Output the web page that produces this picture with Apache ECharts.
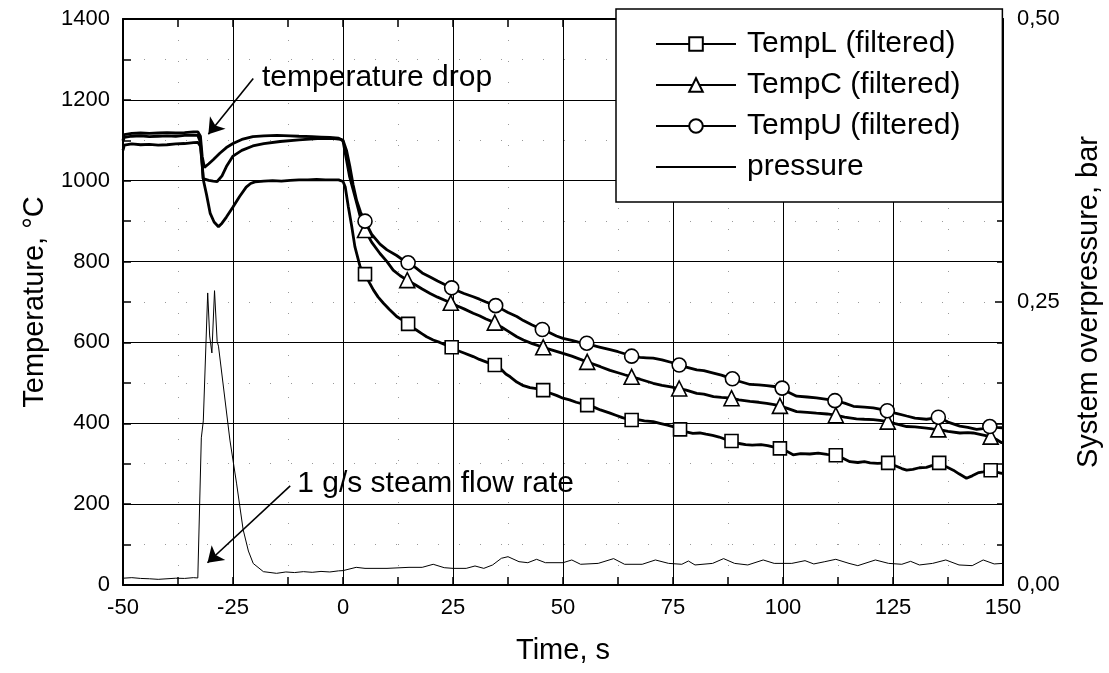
<!DOCTYPE html>
<html><head><meta charset="utf-8">
<script src="https://cdn.jsdelivr.net/npm/echarts@6/dist/echarts.min.js"></script>
<style>html,body{margin:0;padding:0;background:#fff}#c{width:1109px;height:673px}</style>
</head><body><div id="c"></div>
<script>
// ---- data (time in s, temperature in °C, pressure in bar) ----
const seriesNames = ['TempL (filtered)', 'TempC (filtered)', 'TempU (filtered)', 'pressure'];

const tempL = [[-50,1075],[-49.7,1088],[-48,1091],[-46,1089],[-44,1090],[-42,1088],[-40,1089],[-38,1091],[-36,1092],[-34,1094],[-33,1095],[-32.4,1085],[-32,1040],[-31.7,1000],[-31,965],[-30.2,920],[-29.3,898],[-28.3,886],[-27.5,895],[-26.5,910],[-25,935],[-23.5,961],[-22,984],[-21,993],[-20,997],[-18,999],[-16,1000],[-14,999],[-12,1001],[-10,1002],[-8,1002],[-6,1003],[-4,1002],[-2,1002],[-1,1002],
[0,998],[0.5,985],[1.2,936],[2,886],[2.7,837],[3.9,787],[5,769],[6,748],[6.9,730],[8,712],[9.2,697],[10.5,682],[12.2,664],[13.5,655],[14.8,646],[16.5,632],[18,621],[19,614],[20.5,606],[22,600],[23.5,593],[24.7,588],[26,580],[27.5,574],[29.6,565],[31,558],[32.5,552],[34.5,544],[36,533],[37,522],[38,515],[39.5,502],[41,493],[42.5,488],[44,486],[45.5,482],[47,475],[48.5,469],[50,462],[51.5,458],[53,452],[55.5,445],[57,440],[58.5,433],[60.7,425],[62,420],[63.5,414],[65.6,408],[67,409],[68.5,406],[70.5,404],[72,400],[73.5,396],[75,392],[76.6,385],[78,379],[79.5,375],[81.1,376],[82.5,373],[84,370],[85.5,366],[87,360],[88.3,356],[90,350],[91.5,347],[93,346],[95,347],[96.5,345],[98,341],[99.3,338],[100.5,333],[102.3,322],[104,325],[106.1,324],[108,326],[110,323],[112,321],[113.5,314],[115.2,305],[117,303],[118.5,305],[119.8,302],[121.5,301],[123.9,302],[125.5,295],[127,288],[128.1,284],[129.5,286],[131,290],[132.6,291],[134,296],[135.5,302],[137,293],[138.7,284],[140,275],[141.7,264],[143,270],[144.5,278],[145.5,280],[147.2,284],[148.5,279],[149.7,276],[150,278]];

const tempC = [[-50,1098],[-49.7,1107],[-48,1110],[-46,1111],[-44,1109],[-42,1110],[-40,1111],[-38,1110],[-36,1112],[-34,1113],[-33,1112],[-32.4,1095],[-32,1040],[-31.8,1005],[-30.5,1001],[-29.5,999],[-28.6,998],[-27.5,1012],[-26.5,1035],[-25,1061],[-23,1075],[-20.5,1086],[-18,1092],[-14.3,1097],[-10,1101],[-5,1105],[-2,1104],[-0.5,1102],
[0,1098],[0.8,1051],[1.5,1010],[2.3,978],[3.1,945],[3.9,912],[5,878],[6.5,848],[8.4,820],[10,800],[11.4,779],[13,765],[14.6,754],[16.5,742],[18,732],[19.8,721],[21.5,712],[23,705],[24.5,698],[26,690],[27.5,683],[29.6,672],[31,666],[32.5,658],[34.5,649],[36,638],[37.5,628],[39.5,614],[41,606],[43,597],[45.5,588],[47,583],[48.5,578],[50,573],[52,566],[53.5,560],[55.5,552],[57,546],[58.5,540],[60.7,531],[62.5,525],[64,520],[65.6,515],[67.5,509],[69,504],[70.5,499],[72.5,494],[74.5,490],[76.4,486],[78,482],[80.4,474],[82,472],[84.2,466],[86,464],[88.3,462],[90,458],[92.5,454],[94.5,452],[96.3,449],[98,446],[99.3,443],[101,437],[103.1,429],[105.5,427],[107.6,425],[110,423],[112,420],[114,415],[116.7,411],[118.5,410],[120.5,409],[122,407],[123.8,404],[125.5,399],[128.1,392],[130,391],[132.6,388],[134,386],[135.3,385],[137.5,380],[140.2,376],[142,377],[143.2,376],[145,372],[147.2,367],[148.5,360],[149.7,352],[150,352]];

const tempU = [[-50,1100],[-49.7,1114],[-48,1117],[-46,1118],[-44,1117],[-42,1118],[-40,1119],[-38,1118],[-36,1119],[-34,1121],[-33,1121],[-32.4,1110],[-32,1060],[-31.5,1033],[-30.5,1042],[-29.5,1052],[-28,1068],[-26.5,1082],[-25,1092],[-23,1102],[-20.5,1109],[-18,1111],[-15,1112],[-12,1111],[-10,1110],[-7,1109],[-5,1108],[-3,1107],[-1,1105],
[0,1100],[0.8,1075],[1.6,1033],[2.3,990],[3.1,951],[4,922],[5,900],[6.5,868],[8.4,843],[10,829],[12.2,815],[13.5,805],[14.8,797],[16.5,785],[18,772],[19.8,762],[21.5,752],[23,744],[24.7,735],[26,728],[27.5,721],[29.6,713],[31,707],[32.5,700],[34.7,691],[36,683],[37.5,674],[39.5,664],[41,654],[43,643],[45.3,632],[47,624],[48.5,616],[50,610],[52,605],[53.5,601],[55.4,598],[57,592],[58.5,588],[60.7,582],[62.5,577],[64,572],[65.6,566],[67.5,563],[69,562],[70.5,561],[72.5,557],[74.5,551],[76.4,544],[78,539],[80.4,532],[82,530],[84.2,524],[86,519],[88.5,510],[90,504],[92.5,496],[94.5,495],[96.3,493],[98,491],[99.8,487],[101,478],[103.1,467],[105.5,465],[107.6,463],[110,459],[111.8,456],[114,450],[116,442],[118.5,440],[120.5,438],[122,435],[123.7,431],[125.5,425],[128.1,418],[130,413],[132.6,410],[134,412],[135.3,415],[137.5,403],[140.2,393],[142,390],[144,385],[145.5,387],[147,392],[148.5,390],[149.7,389],[150,388]];

const pressure = [[-50,0.0060],[-48,0.0065],[-46,0.0058],[-44,0.0055],[-42,0.0050],[-40,0.0055],[-38,0.0060],[-36,0.0058],[-34,0.0065],[-33,0.0062],[-32.7,0.0070],[-32.2,0.130],[-31.75,0.145],[-30.75,0.258],[-30.3,0.220],[-29.8,0.205],[-29.2,0.260],[-28.6,0.215],[-28.3,0.211],[-27.95,0.210],[-25.7,0.128],[-24.2,0.090],[-22.7,0.049],[-21.5,0.030],[-20.4,0.019],[-18.1,0.0118],[-15.1,0.0103],[-13,0.0115],[-11,0.0110],[-9,0.0118],[-7,0.0112],[-5,0.0120],[-3,0.0115],[-1,0.0125],
[0,0.0127],[3,0.0156],[5,0.0147],[10,0.0147],[15,0.0156],[18,0.0156],[20.5,0.0183],[23,0.0153],[25,0.0147],[28,0.0147],[30,0.0168],[32,0.0147],[34,0.0177],[36,0.0236],[37.5,0.0250],[40,0.0206],[42,0.0197],[44,0.0227],[46,0.0197],[50,0.0197],[52,0.0221],[54,0.0183],[58,0.0191],[61.5,0.0233],[64,0.0183],[68,0.0183],[71,0.0221],[74,0.0191],[77,0.0183],[78.5,0.0212],[80,0.0177],[84,0.0191],[86.5,0.0233],[89,0.0191],[92,0.0177],[95.5,0.0221],[98,0.0191],[102,0.0191],[105,0.0215],[107,0.0186],[109.5,0.0206],[112,0.0227],[115,0.0191],[117,0.0171],[121,0.0221],[124,0.0191],[127,0.0183],[129,0.0209],[131,0.0177],[134,0.0191],[137,0.0221],[140,0.0177],[143,0.0171],[145.5,0.0221],[148,0.0186],[150,0.0191]];

const markersL = [5,14.8,24.7,34.5,45.5,55.5,65.6,76.6,88.3,99.3,112,123.9,135.5,147.2];
const markersC = [5,14.6,24.5,34.5,45.5,55.5,65.6,76.4,88.3,99.3,112,123.8,135.3,147.2];
const markersU = [5,14.8,24.7,34.7,45.3,55.4,65.6,76.4,88.5,99.8,111.8,123.7,135.3,147];

// annotations: text anchors (time, temp) and arrows [from, to]
const noteTexts = ['temperature drop', '1 g/s steam flow rate'];
const noteAnchors = [[-18.4, 1255], [-10.4, 251]];
const arrows = [[[-20.4, 1253], [-30.6, 1115]], [[-12.0, 245], [-30.8, 55]]];

// ---- chart ----
const FONT = '"Liberation Sans", Arial, Helvetica, sans-serif';
const BLACK = '#000';

function withMarkers(pts, marks, sym) {
  return pts.map(p => marks.indexOf(p[0]) >= 0 ? {value: p, symbol: sym} : {value: p, symbol: 'none'});
}
function tempSeries(name, pts, marks, sym, size) {
  return {
    name, type: 'line', xAxisIndex: 0, yAxisIndex: 0,
    data: withMarkers(pts, marks, sym),
    symbol: sym, symbolSize: size, showSymbol: true, showAllSymbol: true,
    lineStyle: {color: BLACK, width: 2.8},
    itemStyle: {color: '#fff', borderColor: BLACK, borderWidth: 1.6},
    emphasis: {disabled: true}, z: 3
  };
}

const chart = echarts.init(document.getElementById('c'), null, {renderer: 'canvas'});
const tickStyle = {color: BLACK, width: 1.5};
const minorGrid = {show: true, lineStyle: {color: '#999', width: 1, type: [1, 20]}};
const sL = tempSeries(seriesNames[0], tempL, markersL, 'rect', 13);
sL.markLine = {
  silent: true, symbol: ['none', 'arrow'], symbolSize: 15,
  label: {show: false}, lineStyle: {color: BLACK, width: 1.6, type: 'solid'},
  emphasis: {disabled: true}, animation: false,
  data: arrows.map(a => [{coord: a[0]}, {coord: a[1]}])
};
sL.markPoint = {
  silent: true, symbol: 'circle', symbolSize: 0, animation: false,
  label: {show: true, position: 'right', distance: 0, color: BLACK, fontSize: 30, fontFamily: FONT},
  data: noteTexts.map((t, i) => ({coord: noteAnchors[i], label: {formatter: t}}))
};

chart.setOption({
  animation: false,
  backgroundColor: '#fff',
  textStyle: {fontFamily: FONT, color: BLACK},
  grid: {left: 123, right: 106, top: 19, bottom: 88, containLabel: false, outerBoundsMode: 'none'},
  legend: {
    orient: 'vertical', left: 616, top: 9, z: 10,
    padding: [20, 42, 20, 39],
    backgroundColor: '#fff', borderColor: BLACK, borderWidth: 1.5,
    itemWidth: 80, itemHeight: 17, itemGap: 11,
    textStyle: {fontSize: 30, color: BLACK, fontFamily: FONT, lineHeight: 30, padding: [0, 0, 0, 6]},
    data: [seriesNames[0], seriesNames[1], seriesNames[2],
      {name: seriesNames[3], itemStyle: {opacity: 0}}]
  },
  xAxis: [{
    type: 'value', position: 'bottom', min: -50, max: 150, interval: 25,
    name: 'Time, s', nameLocation: 'middle', nameGap: 51,
    nameTextStyle: {fontSize: 29, color: BLACK, fontFamily: FONT},
    axisLine: {onZero: false, lineStyle: {color: BLACK, width: 2}},
    axisTick: {inside: true, length: 8, lineStyle: tickStyle},
    minorTick: {show: true, splitNumber: 2, length: 8, lineStyle: tickStyle},
    axisLabel: {fontSize: 22, color: BLACK, margin: 12, fontFamily: FONT, formatter: v => String(v)},
    splitLine: {show: true, lineStyle: {color: BLACK, width: 1}},
    minorSplitLine: minorGrid
  }, {
    type: 'value', position: 'top', min: -50, max: 150, interval: 25,
    axisLine: {onZero: false, lineStyle: {color: BLACK, width: 2}},
    axisTick: {inside: true, length: 8, lineStyle: tickStyle},
    minorTick: {show: true, splitNumber: 2, length: 8, lineStyle: tickStyle},
    axisLabel: {show: false}, splitLine: {show: false}
  }],
  yAxis: [{
    type: 'value', position: 'left', min: 0, max: 1400, interval: 200,
    name: 'Temperature, °C', nameLocation: 'middle', nameGap: 74, nameRotate: 90,
    nameTextStyle: {fontSize: 29, color: BLACK, fontFamily: FONT},
    axisLine: {show: true, onZero: false, lineStyle: {color: BLACK, width: 2}},
    axisTick: {show: true, inside: true, length: 8, lineStyle: tickStyle},
    minorTick: {show: true, splitNumber: 2, length: 8, lineStyle: tickStyle},
    axisLabel: {fontSize: 22, color: BLACK, margin: 13, fontFamily: FONT, formatter: v => String(v)},
    splitLine: {show: true, lineStyle: {color: BLACK, width: 1}},
    minorSplitLine: minorGrid
  }, {
    type: 'value', position: 'right', min: 0, max: 0.5, interval: 0.25,
    name: 'System overpressure, bar', nameLocation: 'middle', nameGap: 71, nameRotate: 90,
    nameTextStyle: {fontSize: 29, color: BLACK, fontFamily: FONT},
    axisLine: {show: true, onZero: false, lineStyle: {color: BLACK, width: 2}},
    axisTick: {show: true, inside: true, length: 8, lineStyle: tickStyle},
    minorTick: {show: true, splitNumber: 7, length: 6, lineStyle: tickStyle},
    axisLabel: {fontSize: 22, color: BLACK, margin: 14, fontFamily: FONT,
      formatter: v => v.toFixed(2).replace('.', ',')},
    splitLine: {show: false}
  }],
  series: [
    sL,
    tempSeries(seriesNames[1], tempC, markersC, 'triangle', 15),
    tempSeries(seriesNames[2], tempU, markersU, 'circle', 14),
    {
      name: seriesNames[3], type: 'line', xAxisIndex: 0, yAxisIndex: 1,
      data: pressure, symbol: 'none', showSymbol: false,
      lineStyle: {color: BLACK, width: 1},
      itemStyle: {color: 'rgba(0,0,0,0)', borderWidth: 0},
      emphasis: {disabled: true}, z: 2
    }
  ]
});
</script>
</body></html>
